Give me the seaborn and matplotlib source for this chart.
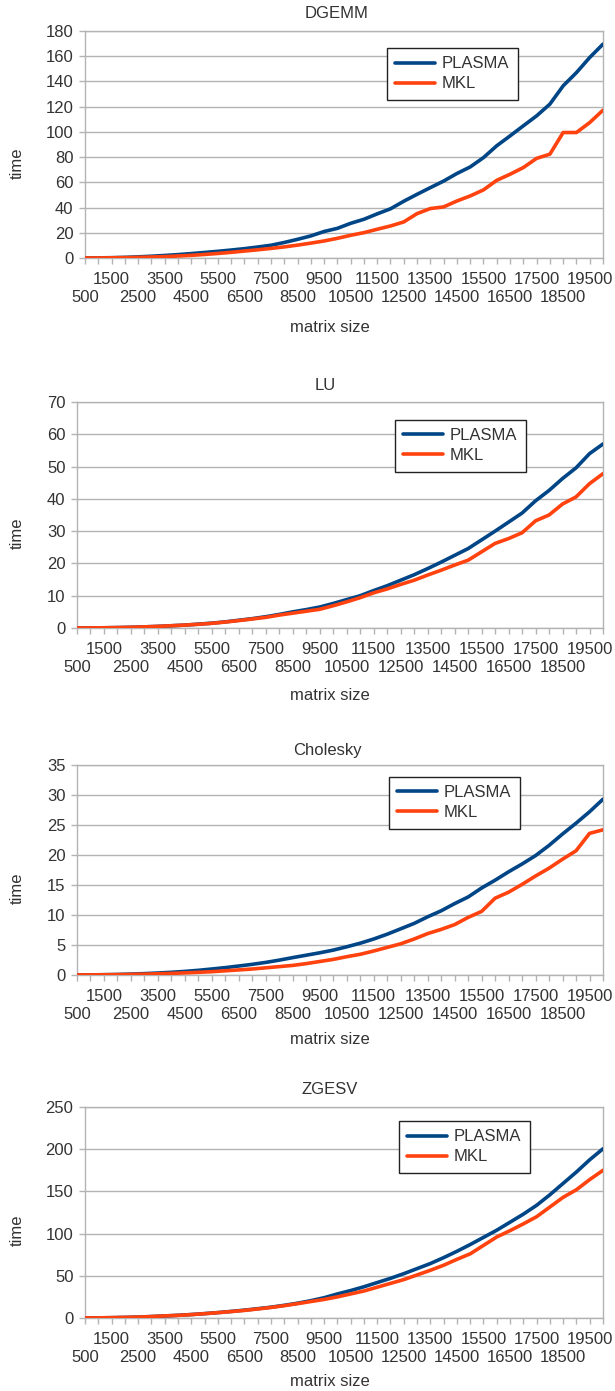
import numpy as np
import pandas as pd
import matplotlib
matplotlib.use("Agg")
import matplotlib.pyplot as plt
import seaborn as sns

# matrix sizes on the x axis (categories)
sizes = list(range(500, 20001, 500))
series_names = ["PLASMA", "MKL"]

# timings
dgemm_plasma = [0.02, 0.1, 0.25, 0.5, 0.9, 1.4, 2.0, 2.7, 3.5, 4.4,
                5.3, 6.3, 7.4, 8.7, 10.1, 12.3, 14.8, 17.5, 21.0, 23.5,
                27.5, 30.7, 35.0, 39.0, 45.0, 50.5, 55.8, 61.0, 67.0, 72.2,
                79.6, 89.0, 96.8, 104.8, 112.7, 122.0, 136.5, 147.0, 159.0, 169.6]
dgemm_mkl = [0.01, 0.05, 0.15, 0.3, 0.5, 0.8, 1.1, 1.6, 2.1, 2.8,
             3.6, 4.5, 5.5, 6.5, 7.6, 8.8, 10.2, 11.8, 13.5, 15.6,
             18.0, 20.1, 22.8, 25.4, 28.6, 35.2, 39.2, 40.5, 45.2, 49.2,
             54.0, 61.6, 66.4, 71.7, 79.0, 82.3, 99.5, 99.5, 107.4, 117.2]

lu_plasma = [0.01, 0.03, 0.07, 0.13, 0.22, 0.35, 0.5, 0.7, 0.9, 1.2,
             1.5, 1.9, 2.4, 2.9, 3.5, 4.2, 5.0, 5.7, 6.5, 7.6,
             8.8, 10.0, 11.6, 13.1, 14.8, 16.5, 18.4, 20.4, 22.5, 24.6,
             27.3, 30.0, 32.8, 35.6, 39.4, 42.6, 46.3, 49.6, 54.0, 57.0]
lu_mkl = [0.01, 0.03, 0.07, 0.13, 0.22, 0.35, 0.5, 0.7, 0.9, 1.15,
          1.45, 1.85, 2.3, 2.8, 3.3, 4.0, 4.6, 5.2, 5.8, 6.9,
          8.1, 9.4, 10.9, 12.1, 13.5, 14.8, 16.4, 17.9, 19.5, 21.0,
          23.6, 26.2, 27.7, 29.5, 33.2, 35.0, 38.4, 40.6, 44.7, 47.8]

chol_plasma = [0.01, 0.02, 0.05, 0.09, 0.15, 0.23, 0.33, 0.45, 0.6, 0.78,
               1.0, 1.23, 1.5, 1.78, 2.1, 2.48, 2.9, 3.3, 3.7, 4.15,
               4.7, 5.3, 6.0, 6.8, 7.7, 8.6, 9.7, 10.7, 11.9, 13.0,
               14.5, 15.8, 17.2, 18.5, 19.9, 21.6, 23.5, 25.3, 27.2, 29.3]
chol_mkl = [0.01, 0.02, 0.04, 0.06, 0.1, 0.14, 0.2, 0.27, 0.35, 0.45,
            0.55, 0.7, 0.85, 1.0, 1.2, 1.4, 1.6, 1.9, 2.25, 2.6,
            3.05, 3.45, 4.0, 4.6, 5.2, 6.0, 6.9, 7.6, 8.4, 9.6,
            10.6, 12.8, 13.8, 15.1, 16.5, 17.8, 19.3, 20.7, 23.6, 24.2]

zgesv_plasma = [0.05, 0.15, 0.4, 0.7, 1.1, 1.7, 2.4, 3.2, 4.1, 5.2,
                6.4, 7.8, 9.3, 11.0, 12.8, 15.0, 17.5, 20.5, 24.0, 28.5,
                32.5, 37.0, 42.0, 47.0, 52.5, 58.5, 64.5, 71.5, 79.0, 87.0,
                95.5, 104.0, 113.5, 123.0, 133.5, 146.0, 159.5, 173.0, 187.5, 200.5]
zgesv_mkl = [0.05, 0.15, 0.4, 0.7, 1.1, 1.7, 2.5, 3.1, 4.0, 5.1,
             6.3, 7.6, 9.0, 10.7, 12.5, 14.6, 17.0, 19.5, 22.0, 25.0,
             28.5, 32.0, 36.5, 41.0, 45.5, 51.0, 56.5, 62.5, 69.5, 76.0,
             86.0, 96.0, 103.5, 111.5, 120.0, 131.5, 143.0, 152.0, 164.0, 175.0]

# x tick labels: every other category, staggered on two rows
# upper row (major ticks): 1500, 3500, ...; lower row (minor ticks): 500, 2500, ...
upper_ticks = [s for i, s in enumerate(sizes) if i % 4 == 2]
upper_labels = [str(s) for s in upper_ticks]
lower_ticks = [s for s in sizes if s not in upper_ticks]
lower_labels = [str(s) if (s - 500) % 2000 == 0 and s < 20000 else "" for s in lower_ticks]

sns.set_theme(style="white")
plt.rcParams["font.family"] = ["Liberation Sans", "DejaVu Sans"]

GRID = "#b3b3b3"
TEXT = "#333333"
palette = {"PLASMA": "#004586", "MKL": "#ff420e"}
FS = 12
W, H = 615, 1391

# layout of each chart, in pixels of the output image
panels = [
    dict(title="DGEMM", plasma=dgemm_plasma, mkl=dgemm_mkl, ymax=180, ystep=20,
         left=85, top=31, bottom=258, title_xy=(337, 13), ylab_y=163,
         xlab_y=327, leg=(387, 48)),
    dict(title="LU", plasma=lu_plasma, mkl=lu_mkl, ymax=70, ystep=10,
         left=77, top=402, bottom=628, title_xy=(325, 385), ylab_y=533,
         xlab_y=695, leg=(395, 420)),
    dict(title="Cholesky", plasma=chol_plasma, mkl=chol_mkl, ymax=35, ystep=5,
         left=77, top=765, bottom=975, title_xy=(327, 750), ylab_y=888,
         xlab_y=1039, leg=(389, 777)),
    dict(title="ZGESV", plasma=zgesv_plasma, mkl=zgesv_mkl, ymax=250, ystep=50,
         left=85, top=1107, bottom=1318, title_xy=(330, 1089), ylab_y=1230,
         xlab_y=1381, leg=(399, 1121)),
]

fig = plt.figure(figsize=(W / 100, H / 100), dpi=100)

for p in panels:
    right = 603
    ax = fig.add_axes([p["left"] / W, 1 - p["bottom"] / H,
                       (right - p["left"]) / W, (p["bottom"] - p["top"]) / H])

    df = pd.DataFrame({
        "size": sizes * 2,
        "time": p["plasma"] + p["mkl"],
        "impl": ["PLASMA"] * len(sizes) + ["MKL"] * len(sizes),
    })
    sns.lineplot(data=df, x="size", y="time", hue="impl", hue_order=series_names,
                 palette=palette, linewidth=2.6, estimator=None, legend=False,
                 ax=ax, zorder=3)

    ax.set_xlim(sizes[0], sizes[-1])
    ax.set_ylim(0, p["ymax"])
    ax.set_yticks(np.arange(0, p["ymax"] + 1, p["ystep"]))
    ax.set_xticks(upper_ticks, upper_labels)
    ax.set_xticks(lower_ticks, lower_labels, minor=True)
    ax.set_xlabel("")
    ax.set_ylabel("")

    ax.yaxis.grid(True, color=GRID, linewidth=1)
    ax.xaxis.grid(False)
    for sp in ax.spines.values():
        sp.set_color(GRID)
        sp.set_linewidth(1)
    ax.tick_params(axis="both", which="both", length=4.3, width=1, color=GRID,
                   labelcolor=TEXT, labelsize=FS, direction="out")
    ax.tick_params(axis="x", which="major", pad=6.0, bottom=True)
    ax.tick_params(axis="x", which="minor", pad=19.0, bottom=True)
    ax.tick_params(axis="y", which="major", pad=4, left=True)
    ax.tick_params(axis="y", which="minor", left=False)

    leg = ax.legend(handles=ax.lines[:2], labels=series_names,
                    loc="upper left", bbox_to_anchor=(p["leg"][0] / W, 1 - p["leg"][1] / H),
                    bbox_transform=fig.transFigure, borderaxespad=0,
                    fontsize=FS, frameon=True, fancybox=False, framealpha=1,
                    edgecolor="#222222", handlelength=2.4, handletextpad=0.4,
                    borderpad=0.5, labelspacing=0.3)
    leg.get_frame().set_linewidth(1)
    for t in leg.get_texts():
        t.set_color(TEXT)

    fig.text(p["title_xy"][0] / W, 1 - p["title_xy"][1] / H, p["title"],
             ha="center", va="center", fontsize=FS, color=TEXT)
    fig.text(17 / W, 1 - p["ylab_y"] / H, "time", rotation=90,
             ha="center", va="center", fontsize=FS, color=TEXT)
    fig.text(330 / W, 1 - p["xlab_y"] / H, "matrix size",
             ha="center", va="center", fontsize=FS, color=TEXT)

fig.savefig("out.png", dpi=100, facecolor="white")
